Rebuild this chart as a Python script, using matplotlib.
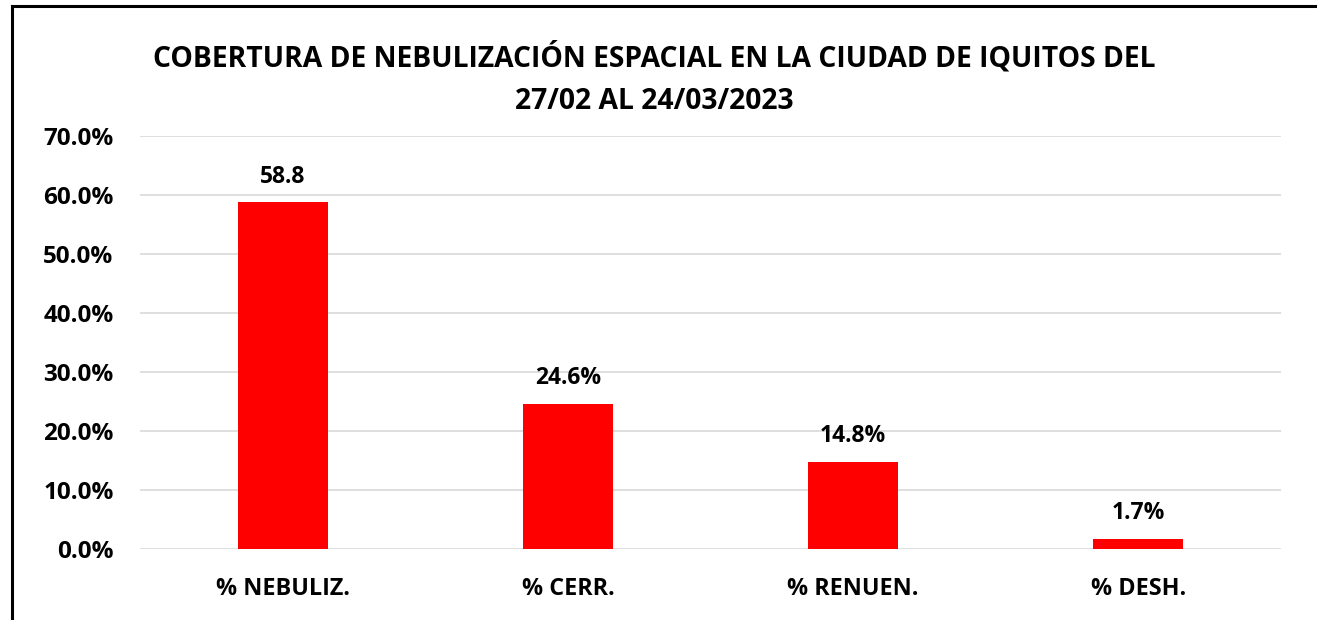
import matplotlib.pyplot as plt
from matplotlib.lines import Line2D

categories = ['% NEBULIZ.', '% CERR.', '% RENUEN.', '% DESH.']
values = [58.8, 24.6, 14.8, 1.7]
value_labels = ['58.8', '24.6%', '14.8%', '1.7%']
yticks = [0, 10, 20, 30, 40, 50, 60, 70]
title = 'COBERTURA DE NEBULIZACIÓN ESPACIAL EN LA CIUDAD DE IQUITOS DEL\n27/02 AL 24/03/2023'

plt.rcParams['font.family'] = ['Open Sans', 'DejaVu Sans']

W, H = 1317, 620
fig = plt.figure(figsize=(W/100, H/100), dpi=100)
ax = fig.add_axes([140/W, 1 - 549/H, (1281 - 140)/W, (549 - 136)/H])

x = range(len(categories))
bars = ax.bar(x, values, width=0.316, color='#ff0000', zorder=3)
for xi, v, lab in zip(x, values, value_labels):
  ax.text(xi, v + 2.3, lab, ha='center', va='bottom', fontsize=16.5, fontweight='bold')

ax.set_xlim(-0.5, len(categories) - 0.5)
ax.set_ylim(0, 70)
ax.set_yticks(yticks)
ax.set_yticklabels([f'{t:.1f}%' for t in yticks], fontsize=17.5, fontweight='bold')
ax.set_xticks(list(x))
ax.set_xticklabels(categories, fontsize=16.8, fontweight='bold')
ax.tick_params(length=0)
ax.tick_params(axis='y', pad=19)
ax.tick_params(axis='x', pad=20)
ax.yaxis.grid(True, color='#d9d9d9', linewidth=1.2, zorder=0)
for spine in ax.spines.values():
  spine.set_visible(False)

fig.text((150 + 1158)/2/W, 1 - 79/H, title, ha='center', va='center',
         fontsize=20.3, fontweight='bold', linespacing=1.58)

# outer chart border (only left and top visible in the crop)
fig.add_artist(Line2D([12/W, 12/W], [0, 1 - 6/H], color='black', linewidth=2.2, transform=fig.transFigure))
fig.add_artist(Line2D([12/W, 1], [1 - 6/H, 1 - 6/H], color='black', linewidth=2.2, transform=fig.transFigure))

fig.savefig('out.png', dpi=100)
